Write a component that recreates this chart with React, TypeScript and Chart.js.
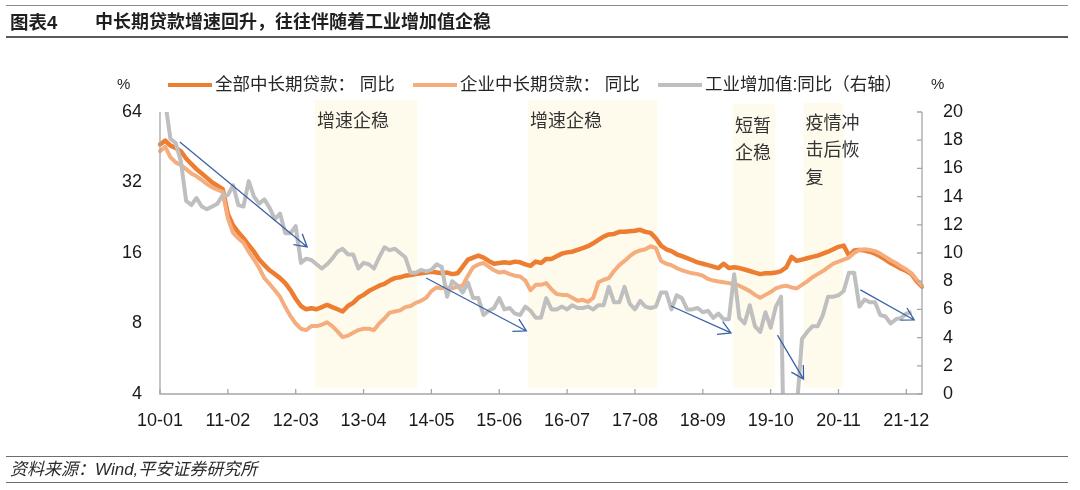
import React, { useEffect, useRef } from 'react';
import { Chart, registerables } from 'chart.js';

Chart.register(...registerables);

// ---------- categories ----------
const FIRST_YEAR = 2010;
const MONTH_COUNT = 147; // 2010-01 .. 2022-03
const MONTHS: string[] = [];
for (let i = 0; i < MONTH_COUNT; i++) {
  const yy = (FIRST_YEAR + Math.floor(i / 12)) % 100;
  const mm = (i % 12) + 1;
  MONTHS.push(`${String(yy).padStart(2, '0')}-${String(mm).padStart(2, '0')}`);
}
const TICK_LABELS = ['10-01', '11-02', '12-03', '13-04', '14-05', '15-06', '16-07', '17-08', '18-09', '19-10', '20-11', '21-12'];
const LEFT_TICKS = [4, 8, 16, 32, 64];
const RIGHT_TICKS = [0, 2, 4, 6, 8, 10, 12, 14, 16, 18, 20];

// ---------- series ----------
// 全部中长期贷款: 同比 (left, log axis)
const TOTAL_MLT = [
  46.5, 48.3, 46.0, 45.0, 43.5, 40.5, 38.4, 36.5, 35.0, 33.5, 32.0, 31.0,
  30.0, 23.5, 21.0, 19.6, 18.5, 17.3, 16.2, 15.0, 14.2, 13.5, 13.0, 12.5,
  11.9, 11.1, 10.2, 9.5, 9.2, 9.3, 9.2, 9.4, 9.6, 9.4, 9.2, 9.0,
  9.5, 9.8, 10.3, 10.6, 11.0, 11.3, 11.6, 11.8, 12.2, 12.5, 12.6, 12.8,
  12.9, 13.0, 13.1, 13.2, 13.3, 13.2, 13.1, 13.2, 13.0, 13.1, 14.0, 15.0,
  15.3, 15.6, 15.3, 14.8, 14.4, 14.5, 14.6, 14.5, 14.7, 14.6, 14.3, 14.1,
  14.7, 14.5, 15.1, 15.1, 15.5, 15.9, 16.1, 16.2, 16.5, 16.8, 17.1, 17.6,
  18.2, 18.8, 19.2, 19.3, 19.7, 19.7, 19.8, 19.9, 20.1, 19.7, 19.5, 18.5,
  17.2, 16.6, 16.3, 15.8, 15.5, 15.2, 14.9, 14.6, 14.4, 14.2, 14.0, 13.8,
  14.4, 13.8, 13.9, 13.8, 13.6, 13.4, 13.2, 13.0, 13.1, 13.1, 13.2, 13.4,
  13.9, 15.4, 14.8, 15.0, 15.2, 15.4, 15.6, 15.9, 16.2, 16.6, 17.0, 17.2,
  15.6, 16.4, 16.5, 16.4, 16.2, 15.9, 15.5, 15.0, 14.5, 14.1, 13.7, 13.4,
  13.0, 12.1, 11.5,
];
// 企业中长期贷款: 同比 (left, log axis)
const CORP_MLT = [
  43.5, 45.5, 41.0, 39.0, 38.0, 36.5, 35.0, 34.0, 32.8, 31.5, 30.5, 29.8,
  29.2, 22.5, 19.5, 18.5, 17.7, 16.2, 15.0, 13.8, 12.5, 11.8, 11.1, 10.4,
  9.4, 8.6, 8.0, 7.6, 7.5, 7.8, 7.8, 7.9, 8.1, 7.8, 7.4, 7.0,
  7.1, 7.3, 7.5, 7.6, 7.6, 7.5, 8.0, 8.4, 8.9, 9.0, 9.1, 9.4,
  9.5, 9.8, 10.0, 10.3, 11.0, 11.4, 11.3, 11.4, 11.3, 11.5, 11.6, 12.8,
  13.9, 14.3, 14.5, 14.0, 13.5, 13.2, 13.3, 13.0, 12.8, 12.7, 12.2, 11.1,
  11.7, 11.7, 11.9, 11.2, 10.7, 10.6, 10.6, 10.3, 10.0, 10.1, 9.9, 10.3,
  12.0, 12.3, 12.5, 13.4, 14.2, 14.8, 15.5, 16.1, 16.4, 16.6, 17.1, 16.8,
  14.8, 14.4, 14.2, 13.8, 13.5, 13.3, 13.1, 13.0, 12.8, 12.4, 12.2, 12.1,
  12.0, 11.9, 11.8, 11.6, 11.3, 11.0, 10.6, 10.3, 10.6, 10.9, 11.3, 11.5,
  11.6, 11.4, 11.3, 11.7, 12.1, 12.6, 13.0, 13.4, 13.9, 14.4, 14.7, 15.0,
  15.3, 16.0, 16.5, 16.6, 16.5, 16.3, 15.9, 15.4, 14.9, 14.5, 14.0, 13.6,
  13.1, 12.3, 11.6,
];
// 工业增加值:同比 (right axis)
const IVA = [
  20.7, 20.7, 18.1, 17.8, 16.5, 13.7, 13.4, 13.9, 13.3, 13.1, 13.3, 13.5,
  14.1, 14.1, 14.8, 13.4, 13.3, 15.1, 14.0, 13.5, 13.8, 13.2, 12.4, 12.8,
  11.4, 11.4, 11.9, 9.3, 9.6, 9.5, 9.2, 8.9, 9.2, 9.6, 10.1, 10.3,
  9.9, 9.9, 8.9, 9.3, 9.2, 8.9, 9.7, 10.4, 10.2, 10.3, 10.0, 9.7,
  8.6, 8.6, 8.8, 8.7, 8.8, 9.2, 9.0, 6.9, 8.0, 7.7, 7.2, 7.9,
  6.8, 6.8, 5.6, 5.9, 6.1, 6.8, 6.0, 6.1, 5.7, 5.6, 6.2, 5.9,
  5.4, 5.4, 6.8, 6.0, 6.0, 6.2, 6.0, 6.3, 6.1, 6.1, 6.2, 6.0,
  6.3, 6.3, 7.6, 6.5, 6.5, 7.6, 6.4, 6.0, 6.6, 6.2, 6.1, 6.2,
  7.2, 7.2, 6.0, 7.0, 6.8, 6.0, 6.0, 6.1, 5.8, 5.9, 5.4, 5.7,
  5.3, 5.3, 8.5, 5.4, 5.0, 6.3, 4.8, 4.4, 5.8, 4.7, 6.2, 6.9,
  -13.5, -13.5, -1.1, 3.9, 4.4, 4.8, 4.8, 5.6, 6.9, 6.9, 7.0, 7.3,
  8.6, 8.6, 6.2, 6.7, 6.5, 6.5, 5.6, 5.5, 5.0, 5.3, 5.4, 5.7,
  5.8, null, null,
];

// ---------- annotations (month index, right-axis value) ----------
const SHADE_FROM = [29.7, 70.5, 109.8, 123.3];
const SHADE_TO = [49.3, 95.3, 117.9, 130.9];
const SHADE_TOP = [20.85, 20.85, 20.6, 20.65];
const SHADE_BOTTOM = 0.45;
const SHADE_TEXT = [['增速企稳'], ['增速企稳'], ['短暂', '企稳'], ['疫情冲', '击后恢', '复']];
const SHADE_TEXT_Y = [19.45, 19.45, 19.1, 19.3];

const ARROW_FROM_X = [3.8, 51.0, 97.9, 118.3, 134.2];
const ARROW_FROM_Y = [17.87, 8.23, 6.24, 4.18, 7.38];
const ARROW_TO_X = [28.2, 70.2, 109.4, 123.3, 144.5];
const ARROW_TO_Y = [10.43, 4.47, 4.33, 1.06, 5.25];

const LEGEND_NAMES = ['全部中长期贷款： 同比', '企业中长期贷款： 同比', '工业增加值:同比（右轴）'];
const COLORS = ['#ED7D31', '#F5AD7D', '#BFBFBF'];

const LATIN = "'Liberation Sans', Arial, sans-serif";
const MIXED = "'Liberation Sans', 'Noto Sans CJK SC', sans-serif";
const CJK = "'Noto Sans CJK SC', sans-serif";

function drawArrow(ctx: CanvasRenderingContext2D, x0: number, y0: number, x1: number, y1: number) {
  const a = Math.atan2(y1 - y0, x1 - x0);
  const len = 14;
  const spread = 0.52;
  ctx.beginPath();
  ctx.moveTo(x0, y0);
  ctx.lineTo(x1, y1);
  ctx.moveTo(x1 - len * Math.cos(a - spread), y1 - len * Math.sin(a - spread));
  ctx.lineTo(x1, y1);
  ctx.lineTo(x1 - len * Math.cos(a + spread), y1 - len * Math.sin(a + spread));
  ctx.stroke();
}

const decorPlugin = {
  id: 'decor',
  beforeDatasetsDraw(chart: any) {
    const { ctx } = chart;
    const x = chart.scales.x;
    const r = chart.scales.y1;
    ctx.save();
    ctx.fillStyle = '#FFFBEC';
    SHADE_FROM.forEach((from, i) => {
      const x0 = x.getPixelForValue(from);
      const x1 = x.getPixelForValue(SHADE_TO[i]);
      const yT = r.getPixelForValue(SHADE_TOP[i]);
      const yB = r.getPixelForValue(SHADE_BOTTOM);
      ctx.fillRect(x0, yT, x1 - x0, yB - yT);
    });
    ctx.fillStyle = '#333333';
    ctx.font = `18px ${CJK}`;
    ctx.textAlign = 'left';
    ctx.textBaseline = 'middle';
    SHADE_TEXT.forEach((lines, i) => {
      const tx = x.getPixelForValue(SHADE_FROM[i]) + 2;
      const ty = r.getPixelForValue(SHADE_TEXT_Y[i]);
      lines.forEach((t, j) => ctx.fillText(t, tx, ty + j * 27.5));
    });
    ctx.restore();
  },
  afterDatasetsDraw(chart: any) {
    const { ctx, chartArea } = chart;
    const x = chart.scales.x;
    const r = chart.scales.y1;
    const { left, right, top, bottom } = chartArea;
    ctx.save();
    // axes
    ctx.strokeStyle = '#A6A6A6';
    ctx.lineWidth = 1.3;
    ctx.beginPath();
    ctx.moveTo(left, top);
    ctx.lineTo(left, bottom);
    ctx.lineTo(right, bottom);
    ctx.lineTo(right, top);
    ctx.stroke();
    ctx.beginPath();
    RIGHT_TICKS.forEach((v) => {
      const py = r.getPixelForValue(v);
      ctx.moveTo(right - 5, py);
      ctx.lineTo(right, py);
    });
    MONTHS.forEach((m, i) => {
      if (TICK_LABELS.includes(m)) {
        const px = x.getPixelForValue(i);
        ctx.moveTo(px, bottom);
        ctx.lineTo(px, bottom - 5);
      }
    });
    ctx.stroke();
    // arrows
    ctx.strokeStyle = '#3A62A7';
    ctx.lineWidth = 1.3;
    ARROW_FROM_X.forEach((fx, i) => {
      drawArrow(
        ctx,
        x.getPixelForValue(fx),
        r.getPixelForValue(ARROW_FROM_Y[i]),
        x.getPixelForValue(ARROW_TO_X[i]),
        r.getPixelForValue(ARROW_TO_Y[i])
      );
    });
    // legend
    const legendY = 85;
    const legendX = [168, 413, 658];
    ctx.textAlign = 'left';
    ctx.textBaseline = 'middle';
    LEGEND_NAMES.forEach((name, i) => {
      ctx.strokeStyle = COLORS[i];
      ctx.lineWidth = 4;
      ctx.beginPath();
      ctx.moveTo(legendX[i], legendY);
      ctx.lineTo(legendX[i] + 44, legendY);
      ctx.stroke();
      ctx.fillStyle = '#262626';
      ctx.font = `17.5px ${MIXED}`;
      ctx.fillText(name, legendX[i] + 47, legendY);
    });
    ctx.font = `15px ${LATIN}`;
    ctx.fillText('%', 117, legendY);
    ctx.fillText('%', 931, legendY);
    ctx.restore();
  },
};

export default function App() {
  const ref = useRef<HTMLCanvasElement | null>(null);

  useEffect(() => {
    if (!ref.current) return;
    const chart = new Chart(ref.current, {
      type: 'line',
      data: {
        labels: MONTHS,
        datasets: [
          {
            label: LEGEND_NAMES[0],
            data: TOTAL_MLT,
            yAxisID: 'y',
            borderColor: COLORS[0],
            backgroundColor: COLORS[0],
            borderWidth: 4.5,
            pointRadius: 0,
            tension: 0,
            borderJoinStyle: 'round',
            borderCapStyle: 'round',
            order: 2,
          },
          {
            label: LEGEND_NAMES[1],
            data: CORP_MLT,
            yAxisID: 'y',
            borderColor: COLORS[1],
            backgroundColor: COLORS[1],
            borderWidth: 4,
            pointRadius: 0,
            tension: 0,
            borderJoinStyle: 'round',
            borderCapStyle: 'round',
            order: 1,
          },
          {
            label: LEGEND_NAMES[2],
            data: IVA,
            yAxisID: 'y1',
            borderColor: COLORS[2],
            backgroundColor: COLORS[2],
            borderWidth: 4,
            pointRadius: 0,
            tension: 0,
            spanGaps: false,
            borderJoinStyle: 'round',
            borderCapStyle: 'butt',
            order: 0,
          },
        ],
      },
      options: {
        responsive: false,
        maintainAspectRatio: false,
        animation: false,
        events: [],
        layout: { padding: { top: 112, left: 0, right: 0, bottom: 0 } },
        plugins: {
          legend: { display: false },
          tooltip: { enabled: false },
          title: { display: false },
        },
        scales: {
          x: {
            type: 'category',
            offset: false,
            grid: { display: false },
            border: { display: false },
            ticks: {
              autoSkip: false,
              maxRotation: 0,
              minRotation: 0,
              padding: 8,
              color: '#1a1a1a',
              font: { size: 18, family: LATIN },
              callback: (_v: any, i: number) => (TICK_LABELS.includes(MONTHS[i]) ? MONTHS[i] : null),
            },
            afterFit: (s: any) => {
              s.height = 96;
            },
          },
          y: {
            type: 'logarithmic',
            position: 'left',
            min: 4,
            max: 64,
            grid: { display: false },
            border: { display: false },
            afterBuildTicks: (s: any) => {
              s.ticks = LEFT_TICKS.map((v) => ({ value: v }));
            },
            ticks: {
              padding: 10,
              color: '#1a1a1a',
              font: { size: 18, family: LATIN },
              callback: (v: any) => String(v),
            },
            afterFit: (s: any) => {
              s.width = 160;
            },
          },
          y1: {
            type: 'linear',
            position: 'right',
            min: 0,
            max: 20,
            grid: { display: false },
            border: { display: false },
            afterBuildTicks: (s: any) => {
              s.ticks = RIGHT_TICKS.map((v) => ({ value: v }));
            },
            ticks: {
              padding: 13,
              color: '#1a1a1a',
              font: { size: 18, family: LATIN },
              callback: (v: any) => String(v),
            },
            afterFit: (s: any) => {
              s.width = 158;
            },
          },
        },
      },
      plugins: [decorPlugin],
    } as any);
    return () => chart.destroy();
  }, []);

  const lineStyle = (top: number, w: number, color: string): React.CSSProperties => ({
    position: 'absolute',
    left: 6,
    top,
    width: 1062,
    height: 0,
    borderTop: `${w}px solid ${color}`,
  });

  return (
    <div style={{ position: 'absolute', left: 0, top: 0, width: 1080, height: 490, background: '#ffffff', overflow: 'hidden' }}>
      <canvas ref={ref} width={1080} height={490} style={{ position: 'absolute', left: 0, top: 0, width: 1080, height: 490 }} />
      <div style={lineStyle(5, 1.5, '#8C8C8C')} />
      <div
        style={{
          position: 'absolute',
          left: 10,
          top: 11,
          font: `bold 18.5px ${MIXED}`,
          lineHeight: '23px',
          color: '#1f1f1f',
          whiteSpace: 'nowrap',
        }}
      >
        图表4
      </div>
      <div
        style={{
          position: 'absolute',
          left: 95,
          top: 11,
          font: `bold 18px ${MIXED}`,
          lineHeight: '23px',
          color: '#1f1f1f',
          whiteSpace: 'nowrap',
        }}
      >
        中长期贷款增速回升，往往伴随着工业增加值企稳
      </div>
      <div style={lineStyle(36, 2, '#5A5A5A')} />
      <div style={lineStyle(456, 1.5, '#6E6E6E')} />
      <div
        style={{
          position: 'absolute',
          left: 10,
          top: 459,
          font: `italic 17px ${MIXED}`,
          lineHeight: '22px',
          color: '#2b2b2b',
          whiteSpace: 'nowrap',
        }}
      >
        资料来源：Wind,平安证券研究所
      </div>
      <div style={lineStyle(482, 1.5, '#6E6E6E')} />
    </div>
  );
}
